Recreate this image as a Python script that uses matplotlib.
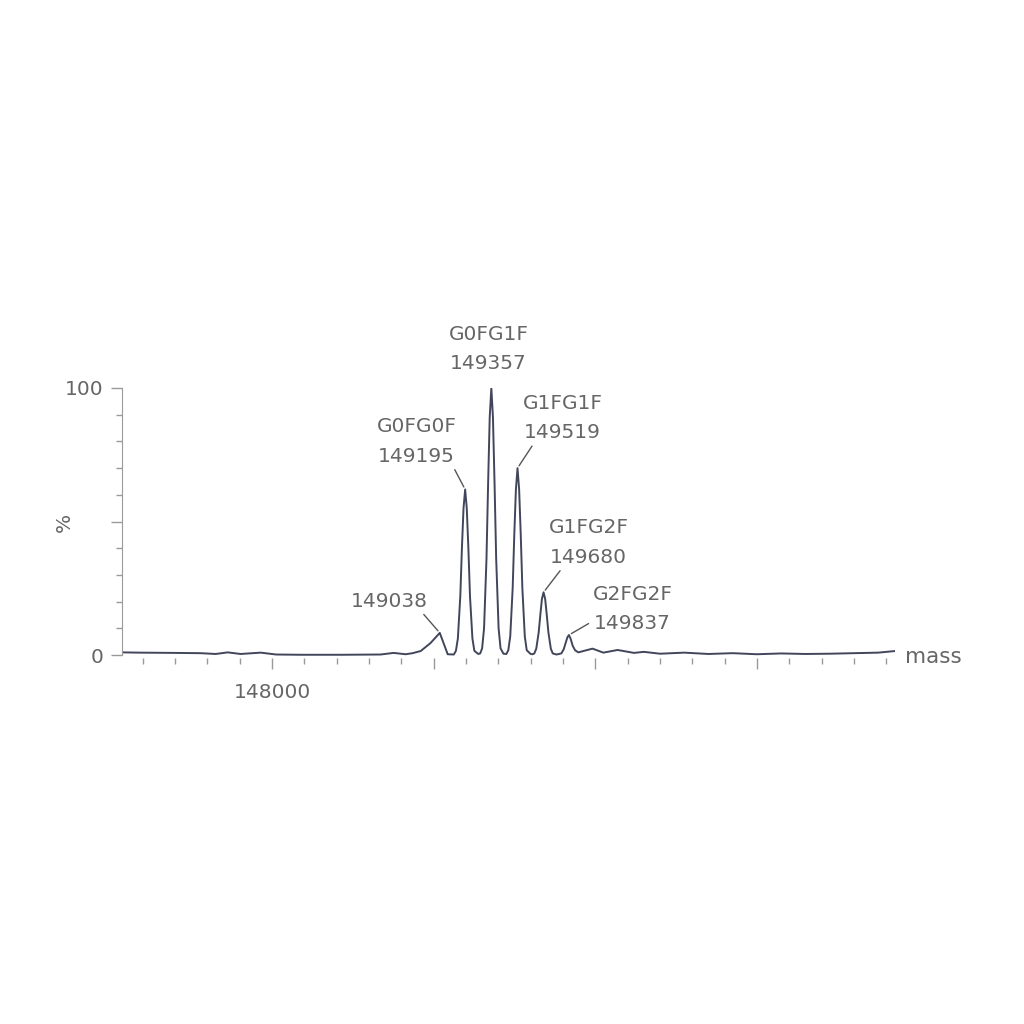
# Deconvoluted mass spectrum with glycoform peak labels
import matplotlib.pyplot as plt
from matplotlib.ticker import MultipleLocator

# Trace (mass, relative intensity %)
mass = [147072, 147183, 147400, 147559, 147652, 147726, 147806, 147930, 148026,
        148181, 148425, 148672, 148752, 148827, 148870, 148920, 148981, 149038,
        149087, 149125,
        # 149195
        149138, 149150, 149165, 149175, 149185, 149195, 149205, 149215, 149225,
        149240, 149252, 149276,
        # 149357
        149288, 149300, 149312, 149327, 149337, 149347, 149357, 149367, 149377,
        149387, 149402, 149414, 149432,
        # 149519
        149450, 149462, 149474, 149489, 149499, 149509, 149519, 149529, 149539,
        149549, 149564, 149576, 149600,
        # 149680
        149612, 149623, 149635, 149650, 149660, 149670, 149680, 149690, 149700,
        149710, 149725, 149737, 149760,
        # 149837
        149790, 149805, 149818, 149828, 149837, 149848, 149860, 149875, 149895,
        149983, 150050, 150138, 150240,
        150300, 150400, 150550, 150700, 150850, 151000, 151150, 151300, 151450,
        151600, 151750, 151854]
intensity = [1.0, 0.9, 0.8, 0.7, 0.4, 1.0, 0.4, 0.9, 0.2,
             0.1, 0.1, 0.2, 0.8, 0.3, 0.7, 1.5, 4.5, 8.3,
             0.3, 0.2,
             1.6, 6.2, 22, 40, 55, 62, 55, 40, 22,
             6.2, 1.6, 0.4,
             0.6, 2.5, 10, 36, 64, 89, 100, 89, 64,
             36, 10, 2.5, 0.5,
             0.4, 1.8, 7, 25, 45, 62, 70, 62, 45,
             25, 7, 1.8, 0.4,
             0.3, 0.6, 2.4, 8.5, 15, 21, 23.5, 21, 15,
             8.5, 2.4, 0.6, 0.2,
             0.6, 2.2, 4.8, 6.7, 7.5, 6.0, 3.5, 1.8, 1.0,
             2.4, 0.9, 1.9, 0.8,
             1.2, 0.5, 0.9, 0.4, 0.7, 0.3, 0.6, 0.4, 0.5,
             0.7, 0.9, 1.5]

# Labelled peaks
peak_mass = [149038, 149195, 149357, 149519, 149680, 149837]
peak_height = [8.3, 62, 100, 70, 23.5, 7.5]
peak_names = ['', 'G0FG0F', 'G0FG1F', 'G1FG1F', 'G1FG2F', 'G2FG2F']
# where each label sits (mass, %) and where its leader line leaves the text
label_pos = [(148728, 20.2), (148895, 80), (149340, 114.6),
             (149798, 88.8), (149959, 42.1), (150231, 17.2)]
leader_rel = [(0.9, 0.0), (0.95, 0.0), None, (0.15, 0.0), (0.18, 0.0), (0.0, 0.25)]

line_col = '#41465a'
text_col = '#666666'
axis_col = '#9a9a9a'
fs = 14.5

fig = plt.figure(figsize=(10.24, 10.24), dpi=100)
ax = fig.add_axes([0.1191, 0.3577, 0.7549, 0.2634])

ax.plot(mass, intensity, color=line_col, lw=1.4)

for m, h, name, pos, rel in zip(peak_mass, peak_height, peak_names, label_pos, leader_rel):
    txt = f'{name}\n{m}' if name else str(m)
    if rel is None:
        ax.text(pos[0], pos[1], txt, ha='center', va='center', fontsize=fs,
                color=text_col, linespacing=1.7)
    else:
        ax.annotate(txt, xy=(m, h), xytext=pos, ha='center', va='center',
                    fontsize=fs, color=text_col, linespacing=1.7,
                    arrowprops=dict(arrowstyle='-', color='#555555', lw=1.0,
                                    relpos=rel, shrinkA=1, shrinkB=2))

ax.set_xlim(147072, 151854)
ax.set_ylim(-1, 100)

ax.set_xticks([148000, 149000, 150000, 151000])
ax.set_xticklabels(['148000', '', '', ''])
ax.xaxis.set_minor_locator(MultipleLocator(200))
ax.set_yticks([0, 50, 100])
ax.set_yticklabels(['0', '', '100'])
ax.yaxis.set_minor_locator(MultipleLocator(10))

ax.tick_params(axis='both', which='major', direction='out', length=8, width=1,
               color=axis_col, labelcolor=text_col, labelsize=fs, pad=5)
ax.tick_params(axis='x', which='major', pad=10)
ax.tick_params(axis='both', which='minor', direction='out', length=4, width=1,
               color=axis_col)

for side in ['top', 'right', 'bottom']:
    ax.spines[side].set_visible(False)
ax.spines['left'].set_color(axis_col)
ax.spines['left'].set_bounds(0, 100)

ax.set_ylabel('%', fontsize=fs, color=text_col)
ax.yaxis.set_label_coords(-0.062, 0.5)
fig.text(0.884, 0.358, 'mass', fontsize=15.5, color=text_col, va='center', ha='left')

plt.savefig('out.png', dpi=100)
